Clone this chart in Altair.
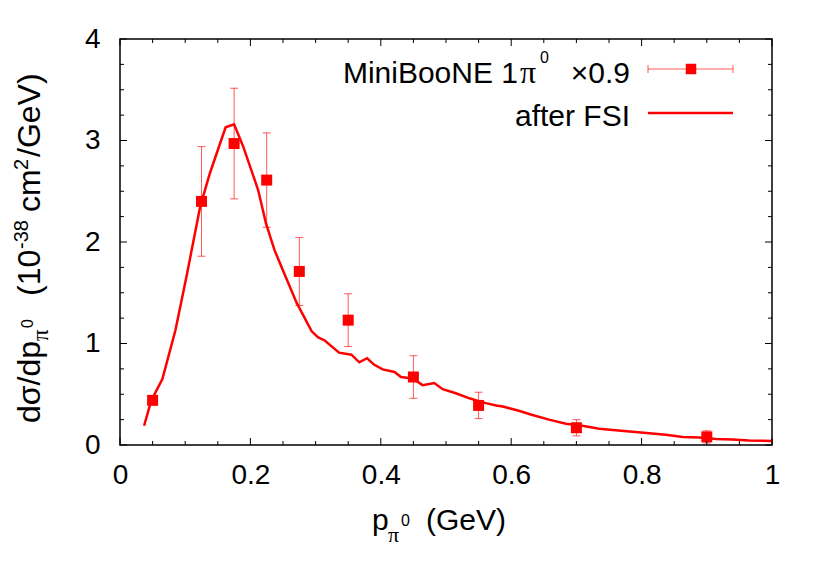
import altair as alt
import pandas as pd

# ---------------- data ----------------
data_x = [0.05, 0.125, 0.175, 0.225, 0.275, 0.35, 0.45, 0.55, 0.70, 0.90]
data_y = [0.44, 2.40, 2.97, 2.61, 1.71, 1.23, 0.67, 0.39, 0.17, 0.08]
data_err = [0.04, 0.54, 0.545, 0.465, 0.335, 0.26, 0.21, 0.13, 0.08, 0.06]

curve_x = [0.037, 0.048, 0.065, 0.085, 0.102, 0.123, 0.138, 0.162, 0.175, 0.189,
           0.212, 0.224, 0.237, 0.250, 0.271, 0.294, 0.304, 0.314, 0.336, 0.355,
           0.367, 0.379, 0.390, 0.403, 0.421, 0.431, 0.449, 0.464, 0.482, 0.495,
           0.515, 0.536, 0.556, 0.577, 0.587, 0.613, 0.630, 0.658, 0.684, 0.709,
           0.735, 0.760, 0.786, 0.812, 0.837, 0.863, 0.888, 0.914, 0.939, 0.965, 1.0]
curve_y = [0.19, 0.44, 0.65, 1.13, 1.66, 2.35, 2.68, 3.13, 3.16, 2.94,
           2.51, 2.18, 1.92, 1.72, 1.40, 1.12, 1.06, 1.03, 0.91, 0.89,
           0.815, 0.855, 0.79, 0.745, 0.72, 0.67, 0.655, 0.59, 0.61, 0.55,
           0.51, 0.46, 0.42, 0.39, 0.38, 0.335, 0.30, 0.25, 0.21, 0.19,
           0.16, 0.145, 0.13, 0.115, 0.10, 0.08, 0.075, 0.06, 0.055, 0.045, 0.04]

x_major = [0, 0.2, 0.4, 0.6, 0.8, 1.0]
x_minor = [0.05, 0.1, 0.15, 0.25, 0.3, 0.35, 0.45, 0.5, 0.55, 0.65, 0.7, 0.75, 0.85, 0.9, 0.95]
y_major = [0, 1, 2, 3, 4]
y_minor = [0.25, 0.5, 0.75, 1.25, 1.5, 1.75, 2.25, 2.5, 2.75, 3.25, 3.5, 3.75]

# ---------------- setup ----------------
W, H = 652, 406
SANS = "Liberation Sans"
SERIF = "Liberation Serif"
RED = "#ff0000"

xs = alt.Scale(domain=[0, 1], nice=False, zero=False)
ys = alt.Scale(domain=[0, 4], nice=False, zero=False)

pts = pd.DataFrame({"x": data_x, "y": data_y,
                    "lo": [a - b for a, b in zip(data_y, data_err)],
                    "hi": [a + b for a, b in zip(data_y, data_err)]})
crv = pd.DataFrame({"x": curve_x, "y": curve_y})
one = pd.DataFrame({"k": [0]})

AX = alt.Axis(values=x_major, format="~g", title=None, ticks=False, domain=False,
              grid=False, labelFontSize=28, labelFont=SANS, labelColor="black",
              labelPadding=16, labelFlush=False, labelOverlap=False)
AY = alt.Axis(values=y_major, format="~g", title=None, ticks=False, domain=False,
              grid=False, labelFontSize=28, labelFont=SANS, labelColor="black",
              labelPadding=20, labelFlush=False, labelOverlap=False)


def X(f):
    return alt.X(f, type="quantitative", scale=xs, axis=AX, title=None)


def Y(f):
    return alt.Y(f, type="quantitative", scale=ys, axis=AY, title=None)


curve = alt.Chart(crv).mark_line(color=RED, strokeWidth=2.5).encode(
    x=X("x"), y=Y("y"), order="x:Q")

ebar = alt.Chart(pts).mark_rule(color=RED, opacity=0.65, strokeWidth=1).encode(
    x=X("x"), y=Y("lo"), y2="hi:Q")
cap_lo = alt.Chart(pts).mark_tick(color=RED, opacity=0.65, orient="horizontal", size=8, thickness=1).encode(
    x=X("x"), y=Y("lo"))
cap_hi = alt.Chart(pts).mark_tick(color=RED, opacity=0.65, orient="horizontal", size=8, thickness=1).encode(
    x=X("x"), y=Y("hi"))
squares = alt.Chart(pts).mark_square(color=RED, opacity=1, size=121).encode(
    x=X("x"), y=Y("y"))


def xticks(vals, length):
    df = pd.DataFrame({"v": vals})
    b = alt.Chart(df).mark_rule(color="black", strokeWidth=1)
    bottom = b.encode(x=X("v"), y=alt.value(H), y2=alt.value(H - length))
    top = b.encode(x=X("v"), y=alt.value(0), y2=alt.value(length))
    return [bottom, top]


def yticks(vals, length):
    df = pd.DataFrame({"v": vals})
    b = alt.Chart(df).mark_rule(color="black", strokeWidth=1)
    left = b.encode(y=Y("v"), x=alt.value(0), x2=alt.value(length))
    right = b.encode(y=Y("v"), x=alt.value(W), x2=alt.value(W - length))
    return [left, right]


def txt(s, x, y, size, angle=0, align="left", font=SANS):
    return alt.Chart(one).mark_text(text=s, fontSize=size, font=font, angle=angle, align=align,
                                    baseline="alphabetic", color="black").encode(
        x=alt.value(x), y=alt.value(y))


# legend
leg_err = alt.Chart(one).mark_rule(color=RED, opacity=0.65, strokeWidth=1).encode(
    x=alt.value(528), x2=alt.value(613), y=alt.value(30))
leg_cap1 = alt.Chart(one).mark_rule(color=RED, opacity=0.65, strokeWidth=1).encode(
    x=alt.value(528), y=alt.value(26), y2=alt.value(34))
leg_cap2 = alt.Chart(one).mark_rule(color=RED, opacity=0.65, strokeWidth=1).encode(
    x=alt.value(613), y=alt.value(26), y2=alt.value(34))
leg_sq = alt.Chart(one).mark_square(color=RED, opacity=1, size=110).encode(
    x=alt.value(571), y=alt.value(30))
leg_line = alt.Chart(one).mark_rule(color=RED, strokeWidth=2.5).encode(
    x=alt.value(528), x2=alt.value(613), y=alt.value(74))

texts = [
    # legend text
    txt("MiniBooNE 1", 398, 44, 30, align="right"),
    txt("π", 400, 44, 32, font=SERIF),
    txt("0", 420, 24, 16),
    txt("×0.9", 510, 44, 30, align="right"),
    txt("after FSI", 510, 87, 30, align="right"),
    # x title
    txt("p", 252, 491, 30),
    txt("π", 268, 503, 22, font=SERIF),
    txt("0", 281, 487, 16),
    txt("(GeV)", 306, 491, 30),
    # y title (rotated)
    txt("dσ/dp", -80, 384, 32, angle=270),
    txt("π", -72, 302, 23, angle=270, font=SERIF),
    txt("0", -87, 289, 16, angle=270),
    txt("(10", -80, 257, 32, angle=270),
    txt("-38", -92, 210, 20, angle=270),
    txt("cm", -80, 173, 32, angle=270),
    txt("2", -92, 131, 20, angle=270),
    txt("/GeV)", -80, 118, 32, angle=270),
]

layers = ([curve, ebar, cap_lo, cap_hi, squares]
          + xticks(x_major, 7) + xticks(x_minor, 4)
          + yticks(y_major, 7) + yticks(y_minor, 4)
          + [leg_err, leg_cap1, leg_cap2, leg_sq, leg_line] + texts)

chart = alt.layer(*layers).properties(
    width=W, height=H,
    autosize=alt.AutoSizeParams(type="none"),
    padding={"left": 112, "top": 31, "right": 50, "bottom": 120},
    background="white",
).configure_view(stroke="black", strokeWidth=1.5)

chart.save("out.html", embed_options={"renderer": "svg", "actions": False})
